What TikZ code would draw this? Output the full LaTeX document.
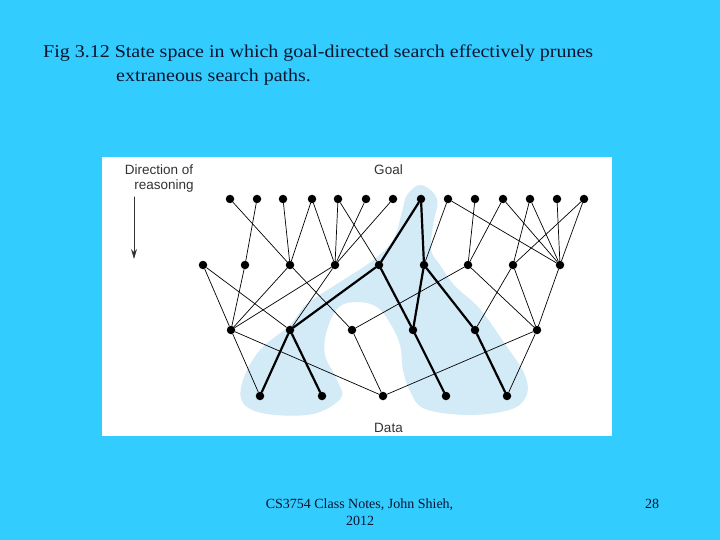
\documentclass[tikz,border=0pt]{standalone}
\usepackage{fontspec}
\setmainfont{Liberation Serif}
\newfontfamily\slidefont[FakeStretch=1.11]{Liberation Serif}
\newfontfamily\figfont{Liberation Sans}
\usetikzlibrary{arrows.meta}
\definecolor{slidebg}{HTML}{33CCFF}
\definecolor{prunebg}{HTML}{D3EAF7}
\definecolor{slidetext}{HTML}{0A1530}
\definecolor{figtext}{HTML}{333333}
\tikzset{
  dot/.style={circle,fill=black,inner sep=0pt,minimum size=8.5pt},
  arc/.style={line width=0.7pt},
  goalarc/.style={line width=2.2pt},
  figlabel/.style={font=\figfont\fontsize{13.5}{15}\selectfont,text=figtext,inner sep=0pt}
}
\begin{document}
\begin{tikzpicture}[x=1pt,y=-1pt,line cap=round,line join=round]
  \useasboundingbox (0,0) rectangle (720,540);
  \fill[slidebg] (0,0) rectangle (720,540);
  % slide title
  \node[anchor=base west,inner sep=0pt,text=slidetext,font=\slidefont\fontsize{18}{20}\selectfont]
    (title1) at (43,58) {Fig 3.12 State space in which goal-directed search effectively prunes};
  \node[anchor=base west,inner sep=0pt,text=slidetext,font=\slidefont\fontsize{18}{20}\selectfont]
    (title2) at (116,82) {extraneous search paths.};
  % figure
  \fill[white] (102,157) rectangle (612,436);
  \fill[prunebg] plot[smooth cycle,tension=0.6] coordinates {
    (421,185) (437,199) (433,225) (431,250) (440,265) (455,286) (480,309)
    (505,344) (524,373) (527,394) (512,409) (470,415) (425,409) (410,391)
    (403,370) (400,345) (390,323) (377,307) (358,302) (339,307) (327,330)
    (325,355) (337,380) (341,398) (313,414) (267,414) (243,403) (243,380)
    (260,350) (290,325) (307,304) (340,282) (372,261) (393,240) (402,212)
    (407,195)};
  \node[figlabel] (dir1) at (159,170) {Direction of};
  \node[figlabel] (dir2) at (164,186.5) {reasoning};
  \coordinate (dirtop) at (134,197);
  \coordinate (dirbot) at (134,259);
  \draw[line width=1pt,figtext,-{Stealth[length=10pt,width=6pt]}] (dirtop) -- (dirbot);
  \node[figlabel] (goal) at (388.5,170) {Goal};
  \node[figlabel] (data) at (388.5,428) {Data};
  \foreach \x [count=\i] in {230,257,283,312,338,366,393,421,448,475,503,530,557,584}
    \node[dot] (t\i) at (\x,199) {};
  \foreach \x [count=\i] in {203,245,290,335,379,424,468,513,560}
    \node[dot] (m\i) at (\x,265) {};
  \foreach \x [count=\i] in {231,290,352,413,475,537}
    \node[dot] (b\i) at (\x,330) {};
  \foreach \x [count=\i] in {260,322,383,446,507}
    \node[dot] (d\i) at (\x,396) {};
  \foreach \a/\b in {t1/m3,t2/m2,t3/m3,t4/m3,t4/m4,t5/m4,t5/m5,t6/m4,t7/m4,
      t9/m6,t9/m9,t10/m7,t11/m7,t11/m9,t12/m8,t12/m9,t13/m9,t14/m8,t14/m9,
      m1/b1,m1/b2,m2/b1,m3/b1,m3/b3,m4/b1,m4/b2,m7/b3,m7/b6,m8/b5,m8/b6,m9/b6,
      b1/d1,b1/d3,b3/d3,b6/d3,b6/d5}
    \draw[arc] (\a) -- (\b);
  \foreach \a/\b in {t8/m5,t8/m6,m5/b2,m5/b4,m6/b4,m6/b5,b2/d1,b2/d2,b4/d4,b5/d5}
    \draw[goalarc] (\a) -- (\b);
  % footer
  \node[anchor=base,inner sep=0pt,text=slidetext,font=\fontsize{14}{16}\selectfont]
    (foot1) at (359.5,508) {CS3754 Class Notes, John Shieh,};
  \node[anchor=base,inner sep=0pt,text=slidetext,font=\fontsize{14}{16}\selectfont]
    (foot2) at (360,525) {2012};
  \node[anchor=base,inner sep=0pt,text=slidetext,font=\fontsize{14}{16}\selectfont]
    (page) at (652,508) {28};
\end{tikzpicture}
\end{document}
